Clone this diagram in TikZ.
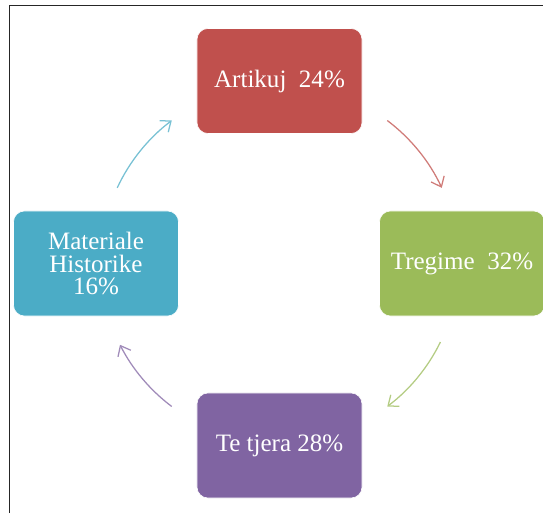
\documentclass[tikz,border=0pt]{standalone}
\usepackage{fontspec}
\setmainfont{Liberation Serif}
\usepackage{xcolor}
\usepackage{tikz}
\usetikzlibrary{
	positioning,						% Relative positioning
	arrows.meta							% Open arrow tips
}
\definecolor{accentRed}{HTML}{C0504D}
\definecolor{accentGreen}{HTML}{9BBB59}
\definecolor{accentPurple}{HTML}{8064A2}
\definecolor{accentCyan}{HTML}{4BACC6}

\begin{document}
\begin{tikzpicture}[x=0.025cm, y=0.025cm]
		\tikzstyle{box} = [draw=white, line width=0.4pt, rounded corners=0.275cm, minimum width=4.125cm, minimum height=2.625cm, text=white, align=center, font=\fontsize{17.8}{16.2}\selectfont]
		\tikzstyle{flow} = [line width=0.9pt, -{Straight Barb[length=2.2mm, width=3.6mm]}]
		
		% Page
		\useasboundingbox (0,0) rectangle (543,513);
		\draw[line width=1.1pt, black!85] (9.5,0) -- (9.5,507.5) -- (543,507.5);
		
		% Boxes
		\coordinate (hub) at (279.5,249.5);
		\node[box, fill=accentRed] at (279.5,432) (artikujBox) {Artikuj\ \ 24\%};
		\node[box, fill=accentGreen] at (462,249.5) (tregimeBox) {Tregime\ \ 32\%};
		\node[box, fill=accentPurple] at (279.5,67.5) (tjeraBox) {Te tjera 28\%};
		\node[box, fill=accentCyan] at (96,249.5) (historikeBox) {Materiale\\Historike\\16\%};
		
		% Arrows (arcs round the hub)
		\foreach \from/\to/\col in {53/25/accentRed, -26/-53/accentGreen, 233/207/accentPurple, 155/127/accentCyan}{
			\coordinate (arcStart\from) at ([shift={(\from:4.475cm)}]hub);
			\draw[flow, \col!75] (arcStart\from) arc[start angle=\from, end angle=\to, radius=4.475cm];
		}
	\end{tikzpicture}
\end{document}
